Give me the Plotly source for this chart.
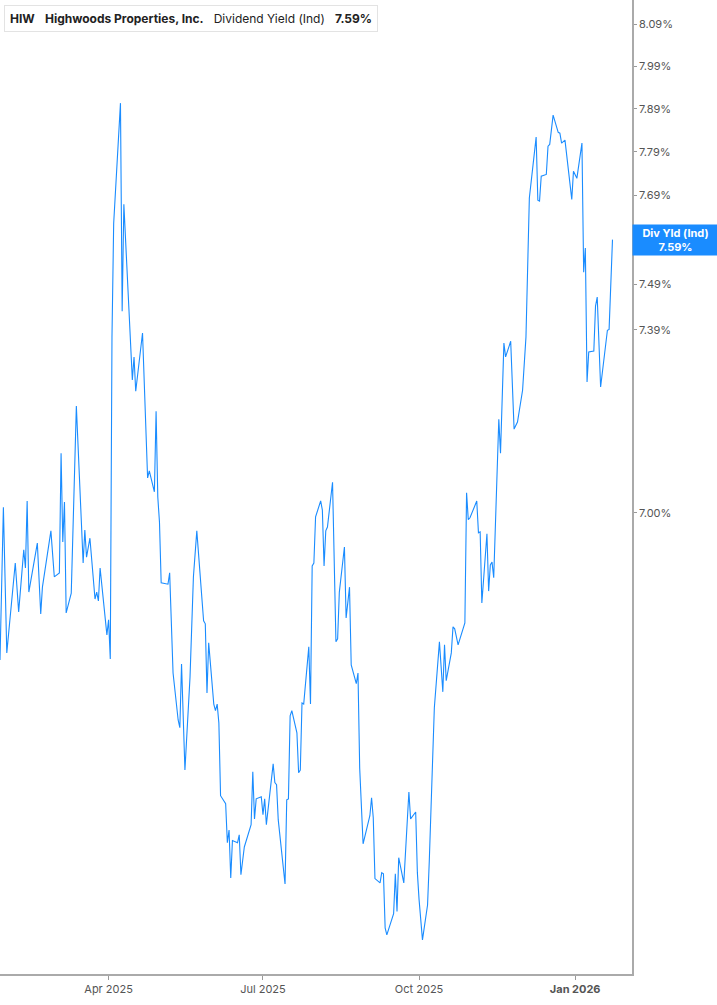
import math
import plotly.graph_objects as go

# HIW dividend yield (indicated)
dates = [
    "2025-01-27","2025-01-29","2025-01-31","2025-02-05","2025-02-07","2025-02-10","2025-02-11","2025-02-12","2025-02-13","2025-02-18",
    "2025-02-20","2025-02-21","2025-02-26","2025-02-28","2025-03-03","2025-03-04","2025-03-05","2025-03-06","2025-03-07","2025-03-10",
    "2025-03-13","2025-03-17","2025-03-18","2025-03-19","2025-03-21","2025-03-24","2025-03-25","2025-03-26","2025-03-27","2025-03-31",
    "2025-04-01","2025-04-02","2025-04-03","2025-04-04","2025-04-08","2025-04-09","2025-04-10","2025-04-15","2025-04-16","2025-04-17",
    "2025-04-21","2025-04-24","2025-04-25","2025-04-28","2025-04-29","2025-04-30","2025-05-01","2025-05-02","2025-05-06","2025-05-07",
    "2025-05-09","2025-05-12","2025-05-13","2025-05-14","2025-05-16","2025-05-19","2025-05-21","2025-05-23","2025-05-27","2025-05-28",
    "2025-05-29","2025-05-30","2025-06-02","2025-06-03","2025-06-04","2025-06-05","2025-06-06","2025-06-09","2025-06-10","2025-06-11",
    "2025-06-12","2025-06-13","2025-06-16","2025-06-17","2025-06-18","2025-06-20","2025-06-24","2025-06-25","2025-06-26","2025-06-27",
    "2025-06-30","2025-07-01","2025-07-02","2025-07-03","2025-07-07","2025-07-08","2025-07-09","2025-07-10","2025-07-14","2025-07-15",
    "2025-07-16","2025-07-17","2025-07-18","2025-07-21","2025-07-22","2025-07-23","2025-07-24","2025-07-25","2025-07-28","2025-07-29",
    "2025-07-30","2025-07-31","2025-08-01","2025-08-04","2025-08-05","2025-08-06","2025-08-07","2025-08-08","2025-08-11","2025-08-13",
    "2025-08-14","2025-08-15","2025-08-18","2025-08-19","2025-08-21","2025-08-22","2025-08-25","2025-08-26","2025-08-27","2025-08-29",
    "2025-09-02","2025-09-03","2025-09-04","2025-09-05","2025-09-08","2025-09-09","2025-09-10","2025-09-11","2025-09-12","2025-09-15",
    "2025-09-16","2025-09-17","2025-09-18","2025-09-19","2025-09-22","2025-09-25","2025-09-26","2025-09-29","2025-09-30","2025-10-01",
    "2025-10-03","2025-10-06","2025-10-07","2025-10-10","2025-10-13","2025-10-15","2025-10-16","2025-10-17","2025-10-20","2025-10-21",
    "2025-10-22","2025-10-24","2025-10-28","2025-10-29","2025-10-30","2025-10-31","2025-11-04","2025-11-05","2025-11-06","2025-11-07",
    "2025-11-10","2025-11-11","2025-11-12","2025-11-13","2025-11-14","2025-11-17","2025-11-18","2025-11-20","2025-11-21","2025-11-24",
    "2025-11-26","2025-11-28","2025-12-01","2025-12-03","2025-12-05","2025-12-09","2025-12-10","2025-12-11","2025-12-12","2025-12-15",
    "2025-12-16","2025-12-17","2025-12-19","2025-12-22","2025-12-23","2025-12-24","2025-12-26","2025-12-30","2025-12-31","2026-01-02",
    "2026-01-05","2026-01-06","2026-01-07","2026-01-08","2026-01-09","2026-01-12","2026-01-13","2026-01-14","2026-01-16","2026-01-20",
    "2026-01-21","2026-01-23"]

divYld = [
    6.702,7.012,6.716,6.897,6.798,6.924,6.887,7.025,6.838,6.938,
    6.794,6.848,6.963,6.869,6.877,7.125,6.940,7.023,6.796,6.836,
    7.225,6.897,6.965,6.909,6.948,6.824,6.838,6.820,6.887,6.752,
    6.782,6.704,7.374,7.627,7.903,7.431,7.670,7.281,7.331,7.257,
    7.383,7.073,7.088,7.044,7.214,7.033,6.981,6.857,6.854,6.877,
    6.676,6.584,6.569,6.694,6.487,6.668,6.869,6.963,6.780,6.774,
    6.637,6.736,6.615,6.602,6.615,6.578,6.438,6.423,6.349,6.373,
    6.283,6.353,6.349,6.364,6.289,6.341,6.383,6.484,6.394,6.432,
    6.436,6.402,6.432,6.383,6.499,6.463,6.459,6.392,6.272,6.430,
    6.432,6.592,6.602,6.559,6.482,6.487,6.617,6.615,6.728,6.615,
    6.891,6.897,6.992,7.025,7.006,6.891,6.963,6.971,7.064,6.738,
    6.744,6.838,6.930,6.786,6.848,6.692,6.655,6.676,6.491,6.347,
    6.400,6.434,6.396,6.282,6.274,6.293,6.291,6.191,6.178,6.211,
    6.217,6.291,6.221,6.321,6.274,6.445,6.394,6.407,6.293,6.243,
    6.169,6.233,6.313,6.608,6.738,6.639,6.732,6.661,6.716,6.768,
    6.764,6.732,6.776,7.042,6.986,6.990,7.025,6.959,6.961,6.816,
    6.957,6.840,6.893,6.899,6.867,7.197,7.125,7.361,7.331,7.365,
    7.176,7.191,7.259,7.374,7.684,7.824,7.679,7.677,7.734,7.738,
    7.803,7.807,7.875,7.835,7.833,7.810,7.817,7.681,7.745,7.729,
    7.810,7.517,7.571,7.277,7.342,7.344,7.442,7.462,7.266,7.389,
    7.391,7.59]

# 7.59% tick sits under the last-value tag, so it's left out
yTicks = [7.00,7.39,7.49,7.69,7.79,7.89,7.99,8.09]
xTicks = ["2025-04-01","2025-07-01","2025-10-01","2026-01-01"]
xTickText = ["Apr 2025","Jul 2025","Oct 2025","<b>Jan 2026</b>"]
lastVal = divYld[-1]

lineC = "#1a8cff"
W, H = 717, 1005
mL, mR, mT, mB = 0, 85, 0, 31
plotW, plotH = W-mL-mR, H-mT-mB

fig = go.Figure()
fig.add_trace(go.Scatter(x=dates, y=divYld, mode="lines",
                         line={"color":lineC,"width":1.1},
                         hovertemplate="%{x|%b %d, %Y}<br>%{y:.2f}%<extra></extra>"))

fig.update_layout(width=W, height=H, margin={"l":mL,"r":mR,"t":mT,"b":mB},
                  plot_bgcolor="#fff", paper_bgcolor="#fff", showlegend=False,
                  font={"family":"Inter, Roboto, sans-serif","color":"#555","size":11})
fig.update_xaxes(range=["2025-01-27","2026-02-03 12:00"], showgrid=False, zeroline=False,
                 showline=True, linecolor="#aaa", linewidth=1.5,
                 tickvals=xTicks, ticktext=xTickText, ticks="outside", ticklen=4,
                 tickcolor="#999", tickfont={"size":11,"color":"#555"})
fig.update_yaxes(type="log", side="right", range=[math.log10(6.107), math.log10(8.148)],
                 showgrid=False, zeroline=False, showline=True, linecolor="#aaa", linewidth=1.5,
                 tickvals=yTicks, ticktext=["%.2f%%" % v for v in yTicks],
                 ticks="outside", ticklen=3, tickcolor="#999",
                 tickfont={"size":11,"color":"#555"})

# header box
sp = "&nbsp;&nbsp;&nbsp;"
fig.add_annotation(xref="paper", yref="paper", x=4/plotW, y=1-5/plotH, xanchor="left", yanchor="top",
                   text="<b>HIW</b>"+sp+"<b>Highwoods Properties, Inc.</b>"+sp+
                        "Dividend Yield (Ind)"+sp+"<b>7.59%</b>",
                   showarrow=False, font={"size":12,"color":"#222"}, align="left",
                   bgcolor="#fff", bordercolor="#e3e3e3", borderwidth=1, borderpad=5)
fig.add_shape(type="rect", xref="paper", yref="paper", x0=4/plotW, x1=7/plotW,
              y0=1-29/plotH, y1=1-6/plotH, fillcolor=lineC, line={"width":0})

# last value tag on the right axis
fig.add_annotation(xref="paper", yref="y", x=1, y=math.log10(lastVal), xanchor="left", yanchor="middle",
                   text="<b>Div Yld (Ind)</b><br><b>%.2f%%</b>" % lastVal, showarrow=False,
                   font={"size":11,"color":"#fff"}, align="center",
                   bgcolor=lineC, borderpad=2, width=81, height=26)

# page body has a default 8px margin; drop it so the figure sits at the corner
fig.write_html("out.html", config={"displayModeBar": False},
               post_script="document.body.style.margin='0';")
